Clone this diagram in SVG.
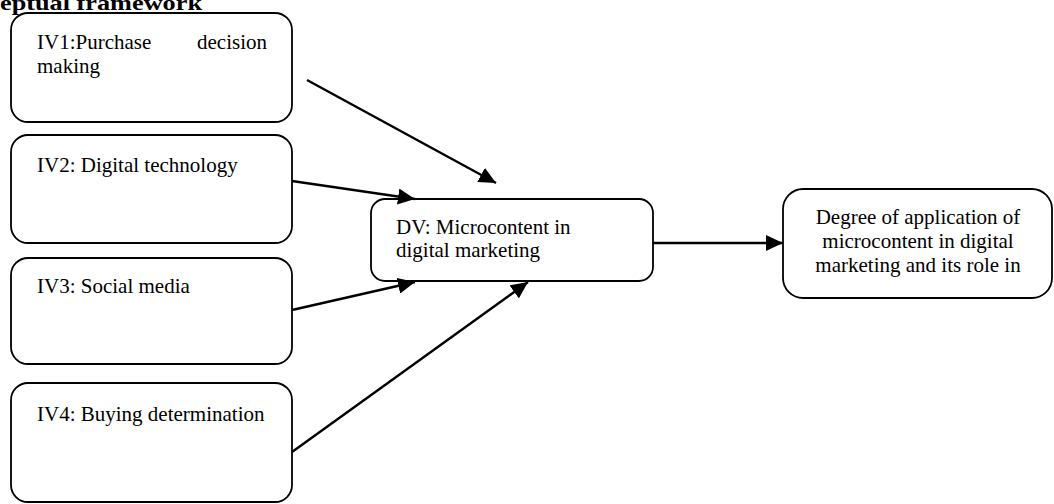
<svg xmlns="http://www.w3.org/2000/svg" width="1054" height="504" viewBox="0 0 1054 504">
<style>
  .box { fill: #ffffff; stroke: #000000; stroke-width: 1.8; }
  .t { font-family: "Liberation Serif", "Times New Roman", serif; font-size: 21px; fill: #000000; }
  .title { font-family: "Liberation Serif", "Times New Roman", serif; font-size: 22px; font-weight: bold; fill: #000000; }
  .conn { stroke: #000000; stroke-width: 2.4; fill: none; marker-end: url(#arrow); }
</style>
<defs>
  <marker id="arrow" markerUnits="userSpaceOnUse" markerWidth="18" markerHeight="16" refX="17" refY="8" orient="auto">
    <path d="M0,0 L17,8 L0,16 Z" fill="#000000"/>
  </marker>
</defs>
<rect width="1054" height="504" fill="#ffffff"/>
<text class="title" x="0" y="10" textLength="202" lengthAdjust="spacingAndGlyphs">eptual framework</text>

<g id="iv1">
  <rect class="box" x="11" y="13" width="281" height="109" rx="17" ry="17"/>
  <text class="t" x="37" y="49">IV1:Purchase</text>
  <text class="t" x="267" y="49" text-anchor="end">decision</text>
  <text class="t" x="37" y="73">making</text>
</g>
<g id="iv2">
  <rect class="box" x="11" y="135" width="281" height="108" rx="17" ry="17"/>
  <text class="t" x="37" y="172">IV2: Digital technology</text>
</g>
<g id="iv3">
  <rect class="box" x="11" y="258" width="281" height="106" rx="17" ry="17"/>
  <text class="t" x="37" y="293">IV3: Social media</text>
</g>
<g id="iv4">
  <rect class="box" x="11" y="383" width="281" height="119" rx="17" ry="17"/>
  <text class="t" x="37" y="421">IV4: Buying determination</text>
</g>
<g id="dv">
  <rect class="box" x="371" y="199" width="282" height="82" rx="14" ry="14"/>
  <text class="t" x="396" y="234">DV: Microcontent in</text>
  <text class="t" x="396" y="257">digital marketing</text>
</g>
<g id="outcome">
  <rect class="box" x="783" y="189" width="269" height="109" rx="20" ry="20"/>
  <text class="t" x="918" y="224" text-anchor="middle">Degree of application of</text>
  <text class="t" x="918" y="248" text-anchor="middle">microcontent in digital</text>
  <text class="t" x="918" y="272" text-anchor="middle">marketing and its role in</text>
</g>

<g id="connectors">
  <line class="conn" x1="307" y1="80" x2="496" y2="183"/>
  <line class="conn" x1="292" y1="181" x2="415" y2="199"/>
  <line class="conn" x1="292" y1="310" x2="415" y2="282"/>
  <line class="conn" x1="292" y1="452" x2="528" y2="282"/>
  <line class="conn" x1="653" y1="243" x2="783" y2="243"/>
</g>
</svg>
